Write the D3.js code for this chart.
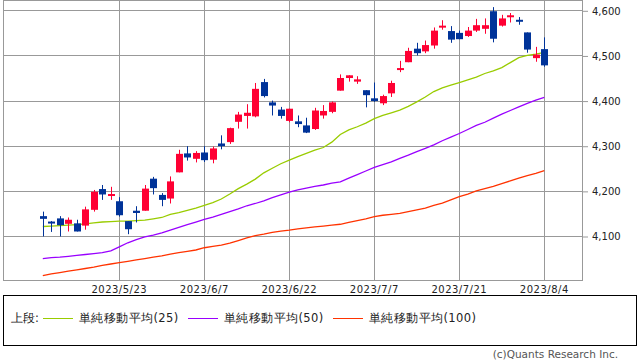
<!DOCTYPE html>
<html>
<head>
<meta charset="utf-8">
<script src="https://cdn.jsdelivr.net/npm/d3@7"></script>
<style>
  body { margin: 0; background: #fff; }
  text { font-family: "DejaVu Sans", sans-serif; }
</style>
</head>
<body>
<div id="chart"></div>
<script>
// trading days shown (2023)
var dates = ["5/10","5/11","5/12","5/15","5/16","5/17","5/18","5/19","5/22","5/23",
  "5/24","5/25","5/26","5/30","5/31","6/1","6/2","6/5","6/6","6/7",
  "6/8","6/9","6/12","6/13","6/14","6/15","6/16","6/20","6/21","6/22",
  "6/23","6/26","6/27","6/28","6/29","6/30","7/3","7/5","7/6","7/7",
  "7/10","7/11","7/12","7/13","7/14","7/17","7/18","7/19","7/20","7/21",
  "7/24","7/25","7/26","7/27","7/28","7/31","8/1","8/2","8/3","8/4"];

var open = [4144,4132,4139,4127,4128,4123,4158,4204,4191,4177,
  4133,4156,4156,4227,4191,4183,4241,4283,4271,4285,
  4269,4305,4308,4353,4366,4365,4441,4396,4380,4355,
  4354,4345,4337,4367,4375,4422,4450,4442,4423,4405,
  4394,4416,4468,4485,4515,4509,4522,4564,4554,4550,
  4543,4555,4559,4598,4566,4585,4579,4551,4494,4514];
var high = [4154,4133,4144,4141,4136,4165,4202,4213,4209,4186,
  4133,4166,4213,4231,4195,4232,4291,4299,4288,4299,
  4298,4323,4340,4375,4392,4439,4448,4400,4386,4382,
  4367,4362,4384,4390,4398,4458,4456,4454,4423,4440,
  4413,4444,4488,4517,4528,4533,4562,4578,4565,4555,
  4563,4581,4582,4607,4590,4594,4585,4551,4519,4540];
var low = [4099,4109,4099,4110,4110,4114,4154,4180,4180,4143,
  4104,4130,4156,4192,4166,4172,4241,4267,4263,4264,
  4261,4292,4304,4338,4338,4363,4407,4367,4360,4352,
  4341,4328,4335,4360,4372,4422,4442,4437,4385,4397,
  4390,4408,4463,4485,4500,4505,4515,4557,4528,4536,
  4541,4552,4548,4529,4564,4573,4568,4506,4486,4475];
var close = [4138,4131,4124,4136,4110,4159,4198,4192,4193,4146,
  4115,4151,4205,4206,4180,4221,4282,4274,4284,4268,
  4294,4299,4339,4369,4373,4426,4410,4389,4366,4382,
  4348,4329,4378,4377,4396,4450,4456,4447,4412,4399,
  4410,4439,4472,4510,4505,4523,4555,4566,4535,4536,
  4555,4567,4567,4537,4582,4589,4577,4513,4502,4478];

// moving averages
var sma25 = [4121,4122,4123,4124,4125,4127,4129,4131,4132,4133,
  4133,4134,4135,4138,4141,4148,4152,4157,4162,4168,
  4174,4182,4193,4205,4215,4226,4240,4250,4260,4268,
  4276,4283,4290,4296,4308,4325,4335,4342,4350,4360,
  4367,4373,4379,4387,4397,4408,4420,4428,4434,4440,
  4446,4452,4460,4466,4473,4484,4495,4500,4503,4507];
var sma50 = [4050,4052,4053,4055,4057,4059,4061,4063,4067,4076,
  4085,4092,4098,4102,4107,4113,4119,4125,4131,4137,
  4142,4148,4154,4160,4167,4172,4178,4185,4191,4197,
  4202,4206,4210,4213,4217,4220,4228,4236,4244,4252,
  4258,4264,4272,4279,4287,4294,4302,4311,4319,4327,
  4336,4345,4352,4361,4370,4378,4386,4394,4401,4407];
var sma100 = [4012,4016,4019,4022,4025,4028,4031,4035,4038,4041,
  4044,4047,4050,4053,4056,4060,4063,4066,4069,4074,
  4077,4080,4084,4090,4096,4101,4104,4108,4111,4113,
  4116,4118,4120,4122,4124,4126,4130,4134,4138,4143,
  4146,4148,4150,4154,4158,4162,4168,4173,4180,4187,
  4193,4200,4205,4210,4216,4222,4228,4234,4239,4245];

var yTicks = [4100, 4200, 4300, 4400, 4500, 4600];
var xTickIdx = [9, 19, 29, 39, 49, 59];
var xTickLabels = ["2023/5/23","2023/6/7","2023/6/22","2023/7/7","2023/7/21","2023/8/4"];

var legendNames = ["単純移動平均(25)", "単純移動平均(50)", "単純移動平均(100)"];
var legendColors = ["#99cc00", "#9900ff", "#ff3300"];

var width = 638, height = 362;
var plotL = 3, plotR = 582, plotT = 0, plotB = 280;

var svg = d3.select("#chart").append("svg")
  .attr("width", width)
  .attr("height", height);

var x = d3.scaleLinear().domain([0, dates.length - 1]).range([42.8, 544.3]);
var y = d3.scaleLinear().domain([4100, 4600]).range([236, 10.3]);

// grid
svg.append("g").selectAll("line")
  .data(yTicks).enter().append("line")
  .attr("x1", plotL).attr("x2", plotR)
  .attr("y1", d => Math.round(y(d)) + 0.5)
  .attr("y2", d => Math.round(y(d)) + 0.5)
  .attr("stroke", "#999");

svg.append("g").selectAll("line")
  .data(xTickIdx).enter().append("line")
  .attr("x1", d => Math.round(x(d)) + 0.5)
  .attr("x2", d => Math.round(x(d)) + 0.5)
  .attr("y1", plotT).attr("y2", plotB)
  .attr("stroke", "#999");

svg.append("rect")
  .attr("x", plotL + 0.5).attr("y", plotT + 0.5)
  .attr("width", plotR - plotL).attr("height", plotB - plotT)
  .attr("fill", "none").attr("stroke", "#999");

// right axis
var yAxis = d3.axisRight(y)
  .tickValues(yTicks)
  .tickSize(6)
  .tickPadding(4)
  .tickFormat(d3.format(","));

var ya = svg.append("g")
  .attr("transform", "translate(" + plotR + ",0.5)")
  .call(yAxis);
ya.select(".domain").remove();
ya.selectAll("line").attr("stroke", "#999");
ya.selectAll("text")
  .attr("font-size", "10px")
  .attr("font-family", "DejaVu Sans")
  .attr("fill", "#222");

// x labels
svg.append("g").selectAll("text")
  .data(xTickIdx).enter().append("text")
  .attr("x", d => x(d))
  .attr("y", 293)
  .attr("text-anchor", "middle")
  .attr("font-size", "10px")
  .attr("letter-spacing", "0.5px")
  .attr("fill", "#222")
  .text((d, i) => xTickLabels[i]);

// moving averages
var maList = [sma100, sma50, sma25];
var maColors = ["#ff3300", "#9900ff", "#99cc00"];
maList.forEach(function (ma, k) {
  var line = d3.line()
    .x((d, i) => x(i))
    .y(d => y(d));
  svg.append("path")
    .datum(ma)
    .attr("d", line)
    .attr("fill", "none")
    .attr("stroke", maColors[k])
    .attr("stroke-width", 1.3);
});

// candles
var idx = d3.range(dates.length);
var candles = svg.append("g").selectAll("g")
  .data(idx).enter().append("g");

function candleColor(i) {
  return close[i] >= open[i] ? "#ff0033" : "#003399";
}

candles.append("line")
  .attr("x1", i => Math.round(x(i)) + 0.5)
  .attr("x2", i => Math.round(x(i)) + 0.5)
  .attr("y1", i => y(high[i]))
  .attr("y2", i => y(low[i]))
  .attr("stroke", candleColor)
  .attr("stroke-width", 1);

candles.append("rect")
  .attr("x", i => Math.round(x(i)) - 3)
  .attr("width", 7)
  .attr("y", i => Math.min(y(open[i]), y(close[i])))
  .attr("height", i => Math.max(2, Math.abs(y(open[i]) - y(close[i]))))
  .attr("fill", candleColor);

// legend
svg.append("rect")
  .attr("x", 3.5).attr("y", 295.5)
  .attr("width", 633).attr("height", 50)
  .attr("fill", "none")
  .attr("stroke", "#000");

var lg = svg.append("g").attr("font-family", "Noto Sans CJK JP").attr("font-size", "11.5px");
lg.append("text").attr("x", 11).attr("y", 322).attr("fill", "#222").text("上段:");

var legendX = [43, 188, 333];
legendNames.forEach(function (name, i) {
  lg.append("line")
    .attr("x1", legendX[i]).attr("x2", legendX[i] + 30)
    .attr("y1", 318.5).attr("y2", 318.5)
    .attr("stroke", legendColors[i]);
  lg.append("text")
    .attr("x", legendX[i] + 36).attr("y", 322)
    .attr("fill", "#222")
    .attr("letter-spacing", "0.4px")
    .text(name);
});

svg.append("text")
  .attr("x", 618).attr("y", 358)
  .attr("text-anchor", "end")
  .attr("font-size", "10.5px")
  .attr("fill", "#555")
  .text("(c)Quants Research Inc.");
</script>
</body>
</html>
